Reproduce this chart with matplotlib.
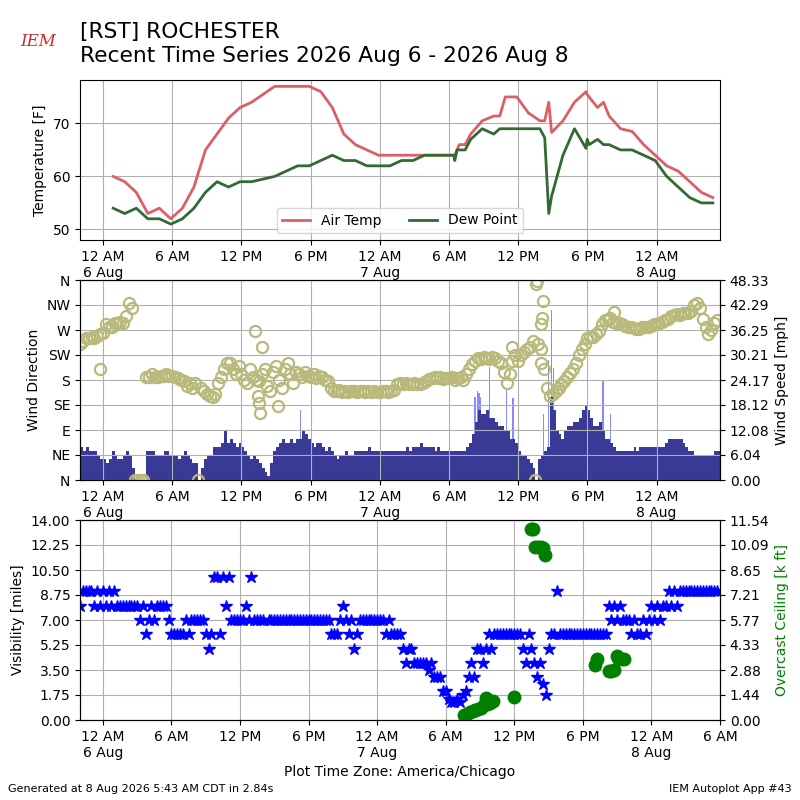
import numpy as np
import pandas as pd
import matplotlib
matplotlib.use("Agg")
import matplotlib.pyplot as plt
import matplotlib.dates as mdates
from matplotlib.ticker import FuncFormatter
from datetime import datetime, timedelta

BASE = datetime(2026, 8, 6)

# ---------------- temperature / dew point (hours after 6 Aug 00:00) -------------
temp_hours = [0.88, 1.88, 2.88, 3.88, 4.88, 5.88, 6.88, 7.88, 8.88, 9.88,
              10.88, 11.88, 12.88, 13.88, 14.88, 15.88, 16.88, 17.88, 18.88, 19.88,
              20.88, 21.88, 22.88, 23.88, 24.88, 25.88, 26.88, 27.88, 28.88, 29.88,
              30.4, 30.5, 30.7, 30.88, 31.4, 31.88, 32.88, 33.88, 34.4, 34.88,
              35.88, 36.88, 37.88, 38.3, 38.65, 38.9, 39.88, 40.88, 41.88, 41.98,
              42.15, 42.88, 43.4, 43.88, 44.88, 45.88, 46.88, 47.88, 48.88, 49.88,
              50.88, 51.88, 52.88]
air_temp = [60, 59, 57, 53, 54, 52, 54, 58, 65, 68,
            71, 73, 74, 75.5, 77, 77, 77, 77, 76, 73,
            68, 66, 65, 64, 64, 64, 64, 64, 64, 64,
            64, 64, 65, 66, 66, 68, 70.5, 71.4, 71.4, 75,
            75, 72, 70.5, 70.5, 74, 68.3, 70.5, 74, 76, 75.5,
            75, 73, 74, 71.4, 69, 68.5, 66, 64, 62, 61,
            59, 57, 56]
dew_point = [54, 53, 54, 52, 52, 51, 52, 54, 57, 59,
             58, 59, 59, 59.5, 60, 61, 62, 62, 63, 64,
             63, 63, 62, 62, 62, 63, 63, 64, 64, 64,
             64, 63, 65, 65, 65, 67, 69, 68, 69, 69,
             69, 69, 69, 67.3, 53, 56.3, 64, 69, 65.3, 67,
             66, 67, 66, 66, 65, 65, 64, 63, 60, 58,
             56, 55, 55]

# ---------------- wind, 15-minute obs starting 5 Aug 22:00 ----------------------
wind_speed = [
    8, 7, 8, 7,   7, 7, 6, 5,   5, 4, 5, 7,   6, 5, 5, 6,   7, 6, 3, 0,
    0, 0, 0, 7,   7, 7, 6, 6,   6, 7, 7, 6,   6, 6, 5, 6,   7, 6, 5, 4,
    4, 0, 3, 5,   6, 6, 8, 8,   8, 9, 12, 9,  10, 9, 8, 9,  8, 7, 6, 5,
    6, 5, 4, 3,   2, 1, 4, 7,   8, 9, 10, 9,  9, 10, 9, 10, 10, 12, 11, 10,
    9, 8, 9, 9,   8, 7, 8, 7,   6, 5, 6, 6,   7, 6, 6, 7,   7, 7, 7, 7,
    8, 7, 7, 7,   7, 7, 7, 7,   7, 7, 7, 7,   7, 8, 7, 8,   8, 8, 9, 8,
    8, 8, 8, 7,   8, 7, 7, 7,   7, 7, 7, 7,   7, 7, 8, 9,   11, 14, 17, 16,
    16, 17, 15, 15, 14, 13, 13, 12, 12, 10, 10, 9, 7, 6, 6, 5, 4, 3, 0, 5,
    6, 7, 8, 20,  17, 12, 11, 10, 12, 13, 13, 14, 14, 15, 17, 18, 17, 15, 13, 13,
    14, 12, 10, 10, 9, 8, 7, 7,  7, 7, 7, 7,   8, 7, 8, 8,   8, 8, 8, 8,
    8, 8, 8, 9,   10, 10, 10, 10, 10, 9, 8, 7, 7, 6, 6, 6,  6, 6, 6, 6,
    7, 7]
wind_dir = [
    245, 250, 255, 255, 258, 255, 260, 262, 265, 280, 275, 275, 283, 283, 285, 283,
    295, 318, 310, 0,   0, 0, 0, 185,     185, 190, 185, 185, 188, 188, 190, 188,
    188, 185, 183, 180, 178, 170, 175, 165, 175, 0, 165, 160,   155, 152, 150, 155,
    175, 185, 200, 210, 210, 200, 190, 205, 190, 180, 175, 200, 185, 180, 178, 190,
    200, 170, 160, 195, 205, 180, 165, 200, 210, 190, 175, 195, 190, 185, 195, 188,
    185, 190, 183, 188, 185, 180, 178, 165, 160, 160, 162, 158, 160, 158, 160, 160,
    158, 160, 160, 158, 160, 158, 160, 158, 158, 160, 160, 158, 160, 162, 172, 175,
    173, 175, 172, 173, 175, 173, 172, 175, 178, 182, 183, 185, 183, 185, 182, 184,
    183, 185, 180, 183, 185, 180, 190, 200, 208, 215, 220, 218, 222, 220, 218, 222,
    220, 215, 210, 195, 175, 190, 215, 225, 215, 225, 230, 235, 240, 250, 0, 245,
    235, 200, 165, 152, 155, 160, 165, 172, 178, 185, 192, 200, 210, 225, 235, 245,
    255, 258, 258, 262, 268, 280, 288, 290, 292, 285, 283, 282, 280, 278, 275, 275,
    273, 272, 272, 275, 275, 275, 278, 280, 280, 283, 285, 288, 290, 295, 297, 298,
    297, 300, 300, 300, 305, 315, 318, 310, 290, 275, 262, 270, 282, 288]

# scattered single direction reports (hours after 6 Aug 00:00)
extra_dir_hours = [-0.25, 13.2, 13.45, 13.55, 13.6, 13.8, 15.2, 35.5,
                   37.55, 37.65, 37.95, 38.0, 38.05, 38.15, 44.3]
extra_dir = [200, 268, 152, 138, 121, 240, 133, 240,
             352, 358, 211, 280, 292, 322, 303]

gust_hours = [17.1, 32.25, 32.45, 32.6, 32.75, 33.53, 34.98, 35.55,
              38.2, 38.6, 38.88, 39.05, 43.35, 44.0]
gust_mph = [17, 20, 21.5, 21, 20, 27.4, 21.7, 19.9,
            16, 29, 41.2, 27, 24.2, 16]

# ---------------- visibility, 15-minute obs starting 5 Aug 22:00 -----------------
nan = np.nan
visibility = [
    8, 9, 9, 9,   9, 8, 9, 8,   9, 8, 9, 8,   9, 8, 8, 8,   8, 8, 8, 8,
    8, 7, 8, 6,   7, 8, 7, 8,   8, 8, 8, 7,   6, 6, 6, 6,   6, 7, 6, 7,
    7, 7, 7, 7,   6, 5, 6, 10,  10, 6, 10, 8, 10, 7, 7, 7,  7, 7, 8, 7,
    10, 7, 7, 7,  7, nan, 7, 7, 7, 7, 7, 7,  7, 7, 7, 7,   7, 7, 7, 7,
    7, 7, 7, 7,   7, 7, 7, 7,   6, 6, 6, 7,   8, 7, 6, 7,   5, 6, 7, 7,
    7, 7, 7, 7,   7, 7, 7, 6,   7, 6, 6, 6,   6, 5, 4, 5,   5, 4, 4, 4,
    4, 4, 3.5, 4, 3, 3, 3, 2,   2, 1.5, 1.25, 1.25, 1.5, 1.25, 1.75, 2,
    3, 4, 3, 5,   5, 4, 5, 6,   5, 6, 6, 6,   6, 6, 6, 6,   6, 6, 6, 5,
    4, 6, 5, 4,   3, 4, 2.5, 1.75, 5, 6, 6, 9,  6, 6, 6, 6,   6, 6, 6, 6,
    6, 6, 6, 6,   6, 6, 6, 6,   6, 8, 7, 8,   7, 8, 7, 7,   7, 6, 7, 6,
    6, 7, 6, 7,   8, 7, 8, 7,   8, 8, 9, 8,   9, 8, 9, 9,   9, 9, 9, 9,
    9, 9, 9, 9,   9, 9, 9, 9]

ceiling_hours = [31.6, 31.85, 32.1, 32.35, 32.6, 32.85, 33.1, 33.35, 33.5, 33.6,
                 33.85, 34.1, 36.0, 37.45, 37.6, 37.8, 38.05, 38.3, 38.55, 38.65,
                 43.05, 43.25, 44.25, 44.5, 44.7, 44.95, 45.1, 45.35, 45.6]
ceiling_kft = [0.3, 0.35, 0.45, 0.5, 0.6, 0.65, 0.7, 0.85, 1.25, 0.9,
               1.0, 1.1, 1.3, 11.0, 11.0, 10.0, 10.0, 10.0, 9.9, 9.5,
               3.2, 3.5, 2.8, 2.8, 2.9, 3.7, 3.6, 3.5, 3.5]

dir_labels = ["N", "NE", "E", "SE", "S", "SW", "W", "NW", "N"]

# ---------------- helpers ----------------
def hrs(h):
    return [BASE + timedelta(hours=float(x)) for x in h]

wind_times = pd.date_range("2026-08-05 22:00", periods=len(wind_speed), freq="15min")
vis_times = pd.date_range("2026-08-05 22:00", periods=len(visibility), freq="15min")

def tick_fmt(x, pos=None):
    d = mdates.num2date(x + 1e-7)
    h = d.hour
    if h == 0:
        return f"12 AM\n{d.day} Aug"
    return {6: "6 AM", 12: "12 PM", 18: "6 PM"}.get(h, "")

TEMP_C = "#dc5f66"
DEW_C = "#326a32"
DIR_C = "#b9b97b"
SPD_C = "#393996"
GUST_C = "#8a8aff"

fig = plt.figure(figsize=(8, 8), dpi=100)
ax1 = fig.add_axes([0.1, 0.7, 0.8, 0.2])
ax2 = fig.add_axes([0.1, 0.4, 0.8, 0.25])
ax3 = fig.add_axes([0.1, 0.1, 0.8, 0.25])

x0 = BASE - timedelta(hours=2)
x1_top = BASE + timedelta(hours=53.5)
x1_bot = BASE + timedelta(hours=54)

# ---- temperature ----
ax1.plot(hrs(temp_hours), air_temp, color=TEMP_C, lw=2, label="Air Temp")
ax1.plot(hrs(temp_hours), dew_point, color=DEW_C, lw=2, label="Dew Point")
ax1.set_ylim(48, 78.2)
ax1.set_yticks([50, 60, 70])
ax1.set_ylabel("Temperature [F]")
ax1.legend(loc="lower center", ncol=2)
ax1.grid(True)

# ---- wind ----
ax2r = ax2.twinx()
ax2r.bar(hrs(gust_hours), gust_mph, width=0.1 / 24, align="center", color=GUST_C, lw=0, zorder=1)
ax2r.bar(wind_times, wind_speed, width=0.25 / 24, align="edge", color=SPD_C, lw=0, zorder=2)
ax2r.set_ylim(0, 48.333)
ax2r.set_yticks(np.linspace(0, 48.333, 9))
ax2r.yaxis.set_major_formatter(FuncFormatter(lambda v, p: f"{v:.2f}"))
ax2r.set_ylabel("Wind Speed [mph]")

ax2.plot(wind_times, wind_dir, "o", mfc="none", mec=DIR_C, ms=8, mew=1.6)
ax2.plot(hrs(extra_dir_hours), extra_dir, "o", mfc="none", mec=DIR_C, ms=8, mew=1.6)
ax2.set_ylim(0, 360)
ax2.set_yticks(np.arange(0, 361, 45))
ax2.set_yticklabels(dir_labels)
ax2.set_ylabel("Wind Direction")
ax2.set_zorder(ax2r.get_zorder() + 1)
ax2.patch.set_visible(False)
ax2.grid(True)

# ---- visibility / ceiling ----
ax3r = ax3.twinx()
ax3.plot(vis_times, visibility, "*", color="blue", ms=9, lw=0)
ax3.set_ylim(0, 14)
ax3.set_yticks(np.arange(0, 14.01, 1.75))
ax3.yaxis.set_major_formatter(FuncFormatter(lambda v, p: f"{v:.2f}"))
ax3.set_ylabel("Visibility [miles]")
ax3.grid(True)
ax3r.plot(hrs(ceiling_hours), ceiling_kft, "o", color="green", ms=9, lw=0)
ax3r.set_ylim(0, 11.536)
ax3r.set_yticks(np.linspace(0, 11.536, 9))
ax3r.yaxis.set_major_formatter(FuncFormatter(lambda v, p: f"{v:.2f}"))
ax3r.set_ylabel("Overcast Ceiling [k ft]", color="green")

for a, xe in ((ax1, x1_top), (ax2, x1_top), (ax3, x1_bot)):
    a.set_xlim(x0, xe)
    a.xaxis.set_major_locator(mdates.HourLocator(byhour=[0, 6, 12, 18]))
    a.xaxis.set_major_formatter(FuncFormatter(tick_fmt))
ax2r.set_xlim(x0, x1_top)
ax3r.set_xlim(x0, x1_bot)

ax3.set_xlabel("Plot Time Zone: America/Chicago")

# ---- titles / footer ----
fig.text(0.1, 0.972, "[RST] ROCHESTER\nRecent Time Series 2026 Aug 6 - 2026 Aug 8",
         fontsize=15.7, va="top", ha="left", linespacing=1.25)
fig.text(0.048, 0.948, "IEM", color="#d62728", fontsize=12, fontstyle="italic",
         family="DejaVu Serif", ha="center", va="center")
fig.text(0.01, 0.01, "Generated at 8 Aug 2026 5:43 AM CDT in 2.84s", fontsize=8)
fig.text(0.99, 0.01, "IEM Autoplot App #43", fontsize=8, ha="right")

fig.savefig("out.png", dpi=100)
